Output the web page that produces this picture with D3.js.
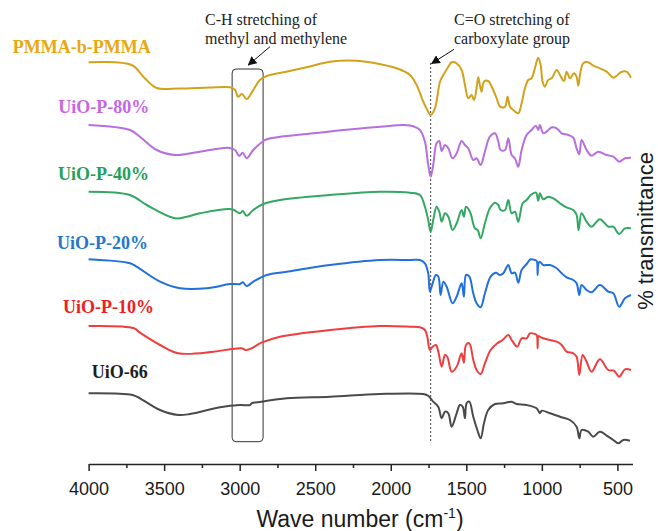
<!DOCTYPE html>
<html>
<head>
<meta charset="utf-8">
<script src="https://cdn.jsdelivr.net/npm/d3@7"></script>
<style>
  html, body { margin: 0; padding: 0; background: #fff; }
  svg { display: block; }
  .series-label { font-family: "Liberation Serif", "Times New Roman", serif; font-weight: bold; font-size: 18px; }
  .note { font-family: "Liberation Serif", "Times New Roman", serif; font-size: 16px; fill: #222; }
  .axis text { font-family: "Liberation Sans", Arial, sans-serif; font-size: 18px; fill: #1a1a1a; }
  .axis path, .axis line { stroke: #222; stroke-width: 1.5; }
  .axis-title { font-family: "Liberation Sans", Arial, sans-serif; font-size: 23px; fill: #1a1a1a; }
</style>
</head>
<body>
<div id="chart"></div>
<script>
// FTIR spectra, [wavenumber cm-1, transmittance (a.u., offset per trace)]
const pmma = [
  [4000,407.7],[3715,405],[3630,392],[3549,382],[3400,381.5],[3200,382.5],[3064,382.7],[3030,380],
  [3011,373.3],[2985,376],[2954,371],[2910,380],[2866,390],[2821,394],[2700,398],[2550,403],
  [2402,408.3],[2226,409.3],[2118,407.3],[1961,401.7],[1873,395],[1829,385],[1785,368.3],[1752,358.3],
  [1736,355],[1708,361.7],[1674,388.3],[1652,395],[1619,403.3],[1597,407.7],[1564,406.7],[1531,400],
  [1509,385],[1487,371.7],[1465,375],[1449,370],[1432,381.7],[1421,392.7],[1410,385],[1399,378.3],
  [1383,388.3],[1355,389],[1332,383.3],[1299,371.7],[1277,363.3],[1244,363.3],[1227,373.3],[1211,363.3],
  [1189,360],[1156,356.7],[1134,366.7],[1112,381.7],[1090,390],[1068,391.7],[1046,401.7],[1024,412.3],
  [1008,405],[995,388.3],[980,383.3],[958,390],[935,391.7],[902,400],[880,395],[854,389],
  [836,398.3],[814,391.7],[788,396.7],[770,393.3],[759,384.3],[744,398.3],[726,406.7],[693,407.7],
  [660,404.3],[616,401.7],[571,398.3],[527,392.3],[505,394.3],[472,398.3],[439,398.3],[410,392.3]
];
const uioP80 = [
  [4000,345],[3726,340],[3660,333.3],[3549,320],[3428,315],[3285,317.7],[3075,322.3],[3031,320],
  [3003,314],[2980,317.3],[2954,311.7],[2910,320],[2854,327.7],[2821,330.7],[2513,336.7],[2071,343.3],
  [1873,344.5],[1807,340],[1774,328.3],[1752,305],[1736,293.3],[1719,305],[1697,326.7],[1679,329],
  [1663,319],[1641,325],[1619,321.7],[1591,311.7],[1564,316.7],[1531,329],[1509,325],[1487,321.7],
  [1454,310],[1432,311.7],[1405,305],[1377,318.3],[1344,333.3],[1310,336.7],[1288,328.3],[1273,320],
  [1244,320],[1222,331.7],[1200,315],[1178,311.7],[1156,303.3],[1134,320],[1101,335],[1068,340],
  [1039,344.3],[1024,340],[1013,345],[991,336.7],[969,338.3],[935,342.7],[902,341.7],[869,336.7],
  [825,335],[792,332.3],[770,321.7],[752,315.7],[737,330],[704,320],[671,314.3],[627,318.3],
  [571,315],[527,313.3],[488,308.3],[450,311.7],[410,312.3]
];
const uioP40 = [
  [4000,278.3],[3726,275],[3615,265],[3428,251.7],[3351,253.3],[3263,256.7],[3053,260.7],[2998,256.7],
  [2980,259],[2954,254.3],[2910,260],[2844,266],[2733,270],[2402,275],[2071,278.3],[1873,277.3],
  [1807,275],[1774,263.3],[1752,250],[1736,238.3],[1719,250],[1697,263.3],[1679,258.3],[1663,248.3],
  [1641,256.7],[1619,253.3],[1591,240],[1564,246.7],[1531,260],[1516,253.3],[1502,263.3],[1476,258.3],
  [1443,241.7],[1425,240],[1405,231.7],[1377,246.7],[1344,261.7],[1310,267.3],[1288,265],[1273,260],
  [1244,260],[1222,270],[1200,256.7],[1178,258.3],[1156,248.3],[1127,266.7],[1101,270],[1074,275],
  [1039,277.3],[1024,269.3],[1013,276.7],[991,270.7],[958,273.3],[924,271.7],[880,266.7],[836,262.7],
  [792,260],[770,255],[757,240],[737,256.7],[704,248.3],[671,243.3],[616,250.7],[560,243.3],
  [527,243.3],[488,236],[450,241.7],[410,241.7]
];
const uioP20 = [
  [4000,210.7],[3726,206.7],[3682,203.3],[3527,188.3],[3395,181.7],[3218,181.7],[3064,186],[2998,186],
  [2980,187.7],[2954,184],[2910,188.3],[2821,195],[2689,198.3],[2402,205],[2071,210],[1873,210],
  [1807,210],[1774,206.7],[1752,196.7],[1741,178.3],[1723,186.7],[1701,195],[1685,193.3],[1670,175],
  [1652,188.3],[1630,183.3],[1591,166.7],[1564,173.3],[1531,186.7],[1516,173.3],[1502,195],[1480,193.3],
  [1454,176.7],[1432,166.7],[1405,162.7],[1377,176.7],[1339,193.3],[1304,197.3],[1277,195],[1255,196.7],
  [1222,205],[1200,196.7],[1178,197.3],[1156,187.3],[1134,200],[1101,206],[1074,210.7],[1046,210],
  [1034,209],[1028,195],[1022,207],[1013,208.3],[991,205],[946,205],[902,201.7],[869,196.7],
  [836,192.7],[792,190],[770,186.7],[752,175],[737,185],[704,180],[671,177.7],[616,185],
  [560,178.3],[527,176.7],[488,163.3],[450,171.7],[410,175]
];
const uioP10 = [
  [4000,144],[3700,141.7],[3660,137.3],[3527,125],[3407,116.7],[3175,118.3],[3053,121],[2987,121.7],
  [2960,120],[2922,121.7],[2856,127.3],[2733,133.3],[2402,140],[2071,144],[1873,143.3],[1807,142.7],
  [1774,140],[1758,133.3],[1741,120],[1723,123.3],[1701,125],[1685,118.3],[1663,103.3],[1641,115],
  [1626,113.3],[1597,98.3],[1564,103.3],[1531,116.7],[1516,107.3],[1502,125],[1480,126.7],[1454,110],
  [1432,100],[1405,96],[1377,106.7],[1339,120],[1295,126.7],[1260,130],[1222,135],[1200,130],
  [1163,123.3],[1134,131.7],[1101,131.7],[1079,136.7],[1046,136],[1034,135],[1028,121.7],[1022,134],
  [1013,133.3],[991,131.7],[946,130],[902,128.3],[869,125],[836,118.3],[792,116.7],[770,113.3],
  [752,95],[730,115],[704,108.3],[671,98.3],[616,110.7],[560,100],[523,99.3],[488,93.3],
  [450,100.7],[410,100]
];
const uio66 = [
  [4000,76.7],[3710,75],[3660,71.7],[3527,60],[3407,55],[3329,56],[3130,62.7],[2998,65],
  [2932,65],[2921,66.7],[2856,68.3],[2689,71.7],[2402,73.3],[2071,76],[1785,76],[1752,74.3],
  [1719,68.3],[1686,63.3],[1663,51.7],[1641,58.3],[1619,56.7],[1597,43.3],[1564,56.7],[1542,65],
  [1524,63.3],[1509,51.7],[1498,66.7],[1480,68.3],[1454,53.3],[1427,40],[1405,31.7],[1383,46.7],
  [1355,60],[1310,66],[1255,66.7],[1200,68.3],[1167,66],[1101,65],[1035,61.7],[1013,56.7],
  [1001,59.3],[946,56.7],[880,53.3],[814,50],[770,43.3],[752,31.7],[737,40],[693,38.3],
  [660,33.3],[616,38.3],[560,33.3],[527,30],[494,26.7],[461,30],[417,29.3]
];

const seriesNames  = ['PMMA-b-PMMA', 'UiO-P-80%', 'UiO-P-40%', 'UiO-P-20%', 'UiO-P-10%', 'UiO-66'];
const seriesData   = [pmma, uioP80, uioP40, uioP20, uioP10, uio66];
const lineColors   = ['#D3A21A', '#B56FDF', '#33A863', '#2270DD', '#F03E3E', '#4A4A4A'];
const labelColors  = ['#E9A812', '#C865E6', '#24A157', '#2178CC', '#F02020', '#1E1E1E'];

const majorTicks = [4000, 3500, 3000, 2500, 2000, 1500, 1000, 500];
const minorTicks = [3750, 3250, 2750, 2250, 1750, 1250, 750];

const chBand = [3050, 2845];   // boxed C-H stretching region
const coPeak = 1736;           // carboxylate C=O position

const W = 658, H = 531;
const svg = d3.select('#chart').append('svg').attr('width', W).attr('height', H);

const x = d3.scaleLinear().domain([4000, 400]).range([88.6, 632.5]);
const y = d3.scaleLinear().domain([0, 440]).range([470, 30]);

const line = d3.line()
  .x(d => x(d[0]))
  .y(d => y(d[1]))
  .curve(d3.curveCatmullRom.alpha(0.5));

// annotation: box and dashed line first, spectra on top
const defs = svg.append('defs');
defs.append('marker')
  .attr('id', 'arrow').attr('viewBox', '0 0 10 10')
  .attr('refX', 9).attr('refY', 5)
  .attr('markerWidth', 9).attr('markerHeight', 9)
  .attr('markerUnits', 'userSpaceOnUse')
  .attr('orient', 'auto')
  .append('path').attr('d', 'M0,0 L10,5 L0,10 Z').attr('fill', '#111');

svg.append('rect')
  .attr('x', x(chBand[0])).attr('y', y(401))
  .attr('width', x(chBand[1]) - x(chBand[0]))
  .attr('height', y(28.3) - y(401))
  .attr('rx', 4).attr('ry', 4)
  .attr('fill', 'none').attr('stroke', '#333').attr('stroke-width', 1);

svg.append('line')
  .attr('x1', x(coPeak)).attr('x2', x(coPeak))
  .attr('y1', y(407)).attr('y2', y(28.3))
  .attr('stroke', '#444').attr('stroke-width', 1)
  .attr('stroke-dasharray', '2,2');

svg.selectAll('.spectrum')
  .data(seriesData)
  .join('path')
    .attr('class', 'spectrum')
    .attr('d', line)
    .attr('fill', 'none')
    .attr('stroke', (d, i) => lineColors[i])
    .attr('stroke-width', 2)
    .attr('stroke-linejoin', 'round');

// series labels
const labelPos = [[12.7, 52.7], [58.3, 112.7], [58, 179.5], [57, 249], [63, 313.3], [91.7, 378.3]];
svg.selectAll('.series-label')
  .data(seriesNames)
  .join('text')
    .attr('class', 'series-label')
    .attr('x', (d, i) => labelPos[i][0])
    .attr('y', (d, i) => labelPos[i][1])
    .attr('fill', (d, i) => labelColors[i])
    .text(d => d);

// notes
const notes = [
  { lines: ['C-H stretching of', 'methyl and methylene'], x: 205, y: 25, from: [270, 46.7], to: [248.3, 65] },
  { lines: ['C=O stretching of', 'carboxylate group'],   x: 454, y: 25, from: [454, 49.3], to: [431.7, 63.5] }
];
notes.forEach(n => {
  const t = svg.append('text').attr('class', 'note').attr('x', n.x).attr('y', n.y);
  n.lines.forEach((s, i) => t.append('tspan').attr('x', n.x).attr('dy', i ? 18.5 : 0).text(s));
  svg.append('line')
    .attr('x1', n.from[0]).attr('y1', n.from[1])
    .attr('x2', n.to[0]).attr('y2', n.to[1])
    .attr('stroke', '#111').attr('stroke-width', 1)
    .attr('marker-end', 'url(#arrow)');
});

// x axis
const axisY = 464;
svg.append('g').attr('class', 'axis')
  .attr('transform', `translate(0,${axisY})`)
  .call(d3.axisBottom(x).tickValues(majorTicks).tickFormat(d3.format('d'))
    .tickSize(7).tickSizeOuter(0).tickPadding(11));

svg.append('g').attr('class', 'axis')
  .attr('transform', `translate(0,${axisY})`)
  .call(d3.axisBottom(x).tickValues(minorTicks).tickSize(4).tickFormat(''))
  .call(g => g.select('.domain').remove());

const xt = svg.append('text').attr('class', 'axis-title')
  .attr('x', 360).attr('y', 527).attr('text-anchor', 'middle');
xt.append('tspan').text('Wave number (cm');
xt.append('tspan').attr('font-size', 14).attr('dy', -9).text('-1');
xt.append('tspan').attr('dy', 9).text(')');

svg.append('text').attr('class', 'axis-title')
  .attr('transform', 'translate(653,231) rotate(-90)')
  .attr('text-anchor', 'middle')
  .style('font-size', '22px')
  .text('% transmittance');
</script>
</body>
</html>
